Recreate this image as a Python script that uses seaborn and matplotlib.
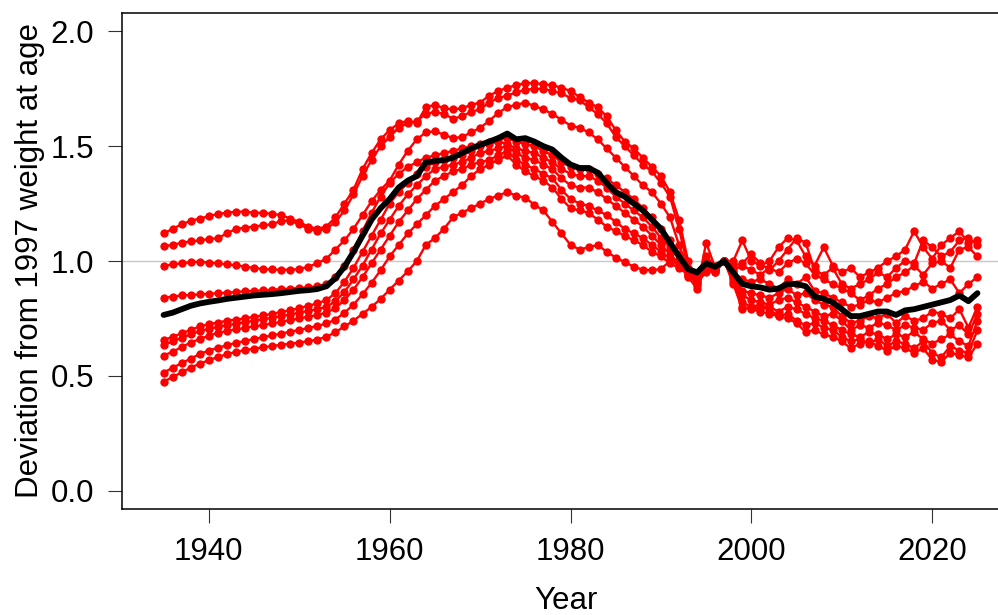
import matplotlib
matplotlib.use("Agg")
import matplotlib.pyplot as plt
import seaborn as sns

years = list(range(1935, 2026))

# weight at age relative to 1997, one list per age group
age_a = [1.12, 1.14, 1.16, 1.175, 1.185,
         1.195, 1.205, 1.21, 1.215, 1.215,
         1.21, 1.21, 1.205, 1.20, 1.185,
         1.17, 1.15, 1.14, 1.15, 1.19,
         1.25, 1.31, 1.40, 1.47, 1.53,
         1.57, 1.60, 1.61, 1.60, 1.67,
         1.68, 1.665, 1.66, 1.665, 1.68,
         1.69, 1.72, 1.74, 1.755, 1.765,
         1.775, 1.775, 1.77, 1.765, 1.755,
         1.74, 1.715, 1.69, 1.67, 1.63,
         1.57, 1.52, 1.49, 1.45, 1.41,
         1.37, 1.30, 1.18, 1.00, 0.89,
         0.97, 0.95, 1.00,
         1.00, 1.09, 1.00, 0.98, 1.00,
         1.06, 1.10, 1.09, 1.02, 0.98,
         1.06, 0.98, 0.95, 0.97, 0.93,
         0.95, 0.97, 1.00, 1.02, 1.05,
         1.13, 1.06, 1.01, 1.07, 1.10,
         1.13, 1.08, 1.09]

age_b = [1.065, 1.07, 1.08, 1.085, 1.09,
         1.095, 1.10, 1.12, 1.14, 1.145,
         1.15, 1.155, 1.16, 1.175, 1.175,
         1.16, 1.14, 1.13, 1.14, 1.17,
         1.22, 1.29, 1.37, 1.44, 1.50,
         1.54, 1.58, 1.60, 1.61, 1.64,
         1.65, 1.64, 1.62, 1.63, 1.65,
         1.66, 1.69, 1.71, 1.72, 1.735,
         1.745, 1.75, 1.75, 1.74, 1.73,
         1.71, 1.70, 1.67, 1.64, 1.60,
         1.54, 1.50, 1.46, 1.42, 1.39,
         1.34, 1.28, 1.14, 0.97, 0.92,
         0.99, 0.97, 1.00,
         0.98, 0.99, 1.03, 0.99, 0.96,
         1.00, 1.05, 1.10, 1.08, 0.96,
         0.94, 0.97, 0.90, 0.88, 0.90,
         0.92, 0.95, 0.93, 0.97, 1.00,
         0.99, 1.09, 1.06, 1.02, 1.04,
         1.09, 1.10, 1.07]

age_c = [0.98, 0.985, 0.99, 0.995, 0.997,
         0.993, 0.99, 0.985, 0.982, 0.975,
         0.97, 0.965, 0.963, 0.962, 0.962,
         0.965, 0.975, 0.99, 1.01, 1.05,
         1.09, 1.14, 1.20, 1.26, 1.31,
         1.35, 1.42, 1.48, 1.53, 1.56,
         1.565, 1.55, 1.535, 1.54, 1.56,
         1.58, 1.61, 1.645, 1.67, 1.68,
         1.69, 1.675, 1.66, 1.64, 1.615,
         1.59, 1.58, 1.56, 1.53, 1.49,
         1.45, 1.41, 1.37, 1.33, 1.30,
         1.25, 1.19, 1.07, 0.96, 0.93,
         1.02, 0.98, 1.00,
         0.96, 0.98, 0.96, 0.94, 0.97,
         0.95, 0.99, 1.01, 0.99, 0.94,
         0.92, 0.90, 0.88, 0.86, 0.83,
         0.85, 0.88, 0.90, 0.93, 0.95,
         0.98, 0.94, 0.99, 1.00, 0.97,
         1.05, 1.06, 1.02]

age_d = [0.84, 0.845, 0.85, 0.852, 0.855,
         0.857, 0.86, 0.862, 0.865, 0.868,
         0.87, 0.872, 0.875, 0.877, 0.88,
         0.882, 0.885, 0.89, 0.90, 0.93,
         0.98, 1.05, 1.13, 1.21, 1.28,
         1.34, 1.38, 1.41, 1.43, 1.45,
         1.46, 1.47, 1.48, 1.49, 1.50,
         1.51, 1.52, 1.53, 1.535, 1.52,
         1.51, 1.50, 1.48, 1.46, 1.43,
         1.41, 1.40, 1.40, 1.38, 1.36,
         1.33, 1.30, 1.27, 1.23, 1.19,
         1.14, 1.09, 1.03, 0.96, 0.92,
         0.98, 0.96, 1.00,
         0.95, 0.92, 0.91, 0.92, 0.90,
         0.88, 0.92, 0.90, 0.93, 0.87,
         0.86, 0.84, 0.82, 0.80, 0.81,
         0.83, 0.82, 0.84, 0.86, 0.87,
         0.89, 0.91, 0.88, 0.90, 0.92,
         0.86, 0.90, 0.93]

age_e = [0.655, 0.67, 0.685, 0.70, 0.715,
         0.725, 0.732, 0.74, 0.745, 0.75,
         0.757, 0.763, 0.77, 0.778, 0.785,
         0.795, 0.805, 0.815, 0.83, 0.86,
         0.91, 0.97, 1.04, 1.11, 1.18,
         1.25, 1.30, 1.34, 1.38, 1.41,
         1.43, 1.44, 1.45, 1.46, 1.48,
         1.50, 1.51, 1.52, 1.51, 1.49,
         1.48, 1.47, 1.45, 1.43, 1.40,
         1.38, 1.37, 1.37, 1.35, 1.32,
         1.28, 1.25, 1.22, 1.19, 1.15,
         1.10, 1.06, 1.01, 0.95, 0.93,
         0.99, 0.97, 1.00,
         0.94, 0.87, 0.86, 0.85, 0.84,
         0.86, 0.88, 0.85, 0.86, 0.83,
         0.81, 0.80, 0.76, 0.73, 0.74,
         0.76, 0.75, 0.77, 0.73, 0.76,
         0.74, 0.75, 0.78, 0.77, 0.75,
         0.79, 0.71, 0.80]

age_f = [0.634, 0.65, 0.665, 0.68, 0.695,
         0.705, 0.713, 0.72, 0.727, 0.733,
         0.74, 0.746, 0.753, 0.76, 0.767,
         0.775, 0.783, 0.79, 0.80, 0.825,
         0.865, 0.92, 0.98, 1.05, 1.12,
         1.18, 1.24, 1.29, 1.33, 1.37,
         1.40, 1.41, 1.42, 1.43, 1.45,
         1.47, 1.48, 1.49, 1.50, 1.47,
         1.45, 1.44, 1.42, 1.40, 1.36,
         1.33, 1.32, 1.32, 1.30, 1.27,
         1.24, 1.21, 1.18, 1.15, 1.11,
         1.07, 1.03, 0.99, 0.94, 0.91,
         0.97, 0.96, 1.00,
         0.93, 0.85, 0.83, 0.82, 0.81,
         0.83, 0.84, 0.82, 0.80, 0.78,
         0.76, 0.77, 0.74, 0.70, 0.72,
         0.71, 0.73, 0.72, 0.70, 0.72,
         0.71, 0.70, 0.73, 0.74, 0.70,
         0.72, 0.68, 0.77]

age_g = [0.588, 0.605, 0.625, 0.645, 0.66,
         0.675, 0.687, 0.695, 0.702, 0.709,
         0.715, 0.721, 0.728, 0.735, 0.742,
         0.75, 0.757, 0.765, 0.775, 0.795,
         0.83, 0.875, 0.93, 0.99, 1.05,
         1.11, 1.17, 1.22, 1.27, 1.31,
         1.35, 1.37, 1.39, 1.40, 1.42,
         1.43, 1.44, 1.46, 1.48, 1.44,
         1.42, 1.40, 1.38, 1.36, 1.31,
         1.27, 1.25, 1.24, 1.22, 1.20,
         1.17, 1.14, 1.12, 1.10, 1.07,
         1.04, 1.01, 0.98, 0.94, 0.90,
         0.96, 0.95, 1.00,
         0.92, 0.82, 0.80, 0.79, 0.80,
         0.78, 0.80, 0.79, 0.77, 0.75,
         0.74, 0.72, 0.70, 0.68, 0.67,
         0.69, 0.68, 0.66, 0.68, 0.67,
         0.69, 0.66, 0.64, 0.66, 0.68,
         0.65, 0.63, 0.74]

age_h = [0.514, 0.535, 0.555, 0.575, 0.595,
         0.61, 0.622, 0.633, 0.643, 0.652,
         0.66, 0.668, 0.676, 0.684, 0.692,
         0.70, 0.708, 0.717, 0.728, 0.745,
         0.775, 0.81, 0.855, 0.905, 0.96,
         1.02, 1.07, 1.12, 1.16, 1.20,
         1.24, 1.27, 1.30, 1.33, 1.37,
         1.40, 1.42, 1.44, 1.46, 1.42,
         1.39, 1.37, 1.35, 1.32, 1.27,
         1.23, 1.22, 1.21, 1.18, 1.15,
         1.13, 1.11, 1.09, 1.07, 1.04,
         1.02, 0.99, 0.97, 0.94, 0.91,
         0.95, 0.96, 1.00,
         0.91, 0.80, 0.79, 0.78, 0.77,
         0.76, 0.77, 0.74, 0.72, 0.73,
         0.71, 0.70, 0.67, 0.65, 0.66,
         0.64, 0.66, 0.63, 0.65, 0.64,
         0.62, 0.65, 0.60, 0.58, 0.63,
         0.61, 0.60, 0.70]

age_i = [0.474, 0.495, 0.515, 0.535, 0.553,
         0.568, 0.582, 0.594, 0.604, 0.612,
         0.618, 0.624, 0.63, 0.635, 0.64,
         0.645, 0.65, 0.658, 0.67, 0.69,
         0.715, 0.74, 0.77, 0.80, 0.835,
         0.875, 0.915, 0.955, 1.00, 1.07,
         1.10, 1.14, 1.19, 1.21, 1.23,
         1.25, 1.27, 1.285, 1.30, 1.285,
         1.275, 1.245, 1.22, 1.17, 1.12,
         1.07, 1.05, 1.06, 1.07, 1.04,
         1.015, 0.995, 0.975, 0.962, 0.96,
         0.965, 1.00, 1.00, 0.93, 0.88,
         1.08, 0.97, 1.00,
         0.90, 0.79, 0.80, 0.81, 0.79,
         0.76, 0.75, 0.73, 0.69, 0.70,
         0.68, 0.67, 0.65, 0.62, 0.64,
         0.65, 0.63, 0.61, 0.63, 0.62,
         0.60, 0.62, 0.57, 0.56, 0.60,
         0.59, 0.58, 0.64]

# black line: average over ages
mean_dev = [0.765, 0.775, 0.79, 0.805, 0.815,
            0.822, 0.828, 0.835, 0.84, 0.845,
            0.85, 0.853, 0.856, 0.86, 0.865,
            0.87, 0.873, 0.878, 0.89, 0.925,
            0.975, 1.04, 1.11, 1.18, 1.23,
            1.27, 1.32, 1.35, 1.37, 1.43,
            1.435, 1.44, 1.45, 1.47, 1.49,
            1.505, 1.52, 1.535, 1.555, 1.53,
            1.535, 1.52, 1.50, 1.485, 1.45,
            1.42, 1.405, 1.405, 1.385, 1.34,
            1.30, 1.28, 1.25, 1.22, 1.18,
            1.14, 1.08, 1.02, 0.965, 0.95,
            0.99, 0.975, 1.00,
            0.95, 0.90, 0.89, 0.885, 0.875,
            0.88, 0.90, 0.90, 0.89, 0.845,
            0.835, 0.82, 0.79, 0.76, 0.76,
            0.77, 0.78, 0.78, 0.765, 0.785,
            0.79, 0.80, 0.81, 0.82, 0.83,
            0.85, 0.825, 0.86]

ages = [age_a, age_b, age_c, age_d, age_e, age_f, age_g, age_h, age_i]

sns.set_theme(style="ticks")
plt.rcParams['font.family'] = ['Liberation Sans', 'DejaVu Sans']

fig = plt.figure(figsize=(9.98, 6.15), dpi=100)
# plot box runs past the right edge, like the original crop
ax = fig.add_axes([122 / 998, 106 / 615, 888 / 998, 496 / 615])

ax.axhline(1.0, color='#c8c8c8', linewidth=1.0, zorder=1)
for vals in ages:
    sns.lineplot(x=years, y=vals, ax=ax, color='red', linewidth=1.7,
                 marker='o', markersize=6, markeredgewidth=0, zorder=2)
sns.lineplot(x=years, y=mean_dev, ax=ax, color='black', linewidth=4.2, zorder=3)

ax.set_xlim(1930.4, 2028.6)
ax.set_ylim(-0.08, 2.08)
ax.set_xticks([1940, 1960, 1980, 2000, 2020])
ax.set_yticks([0.0, 0.5, 1.0, 1.5, 2.0])
ax.set_yticklabels(['0.0', '0.5', '1.0', '1.5', '2.0'])
ax.tick_params(axis='both', length=10, width=0.8, color='#333333',
               labelsize=22.5, labelcolor='black')
ax.tick_params(axis='x', pad=10)
ax.tick_params(axis='y', pad=10)
for sp in ax.spines.values():
    sp.set_color('black')
    sp.set_linewidth(1.1)

ax.set_xlabel('Year', fontsize=22.5, color='black')
ax.set_ylabel('Deviation from 1997 weight at age', fontsize=22.5, color='black')
ax.xaxis.set_label_coords(0.5, -0.155)
ax.yaxis.set_label_coords(-0.087, 0.5)

fig.savefig('out.png', dpi=100)
